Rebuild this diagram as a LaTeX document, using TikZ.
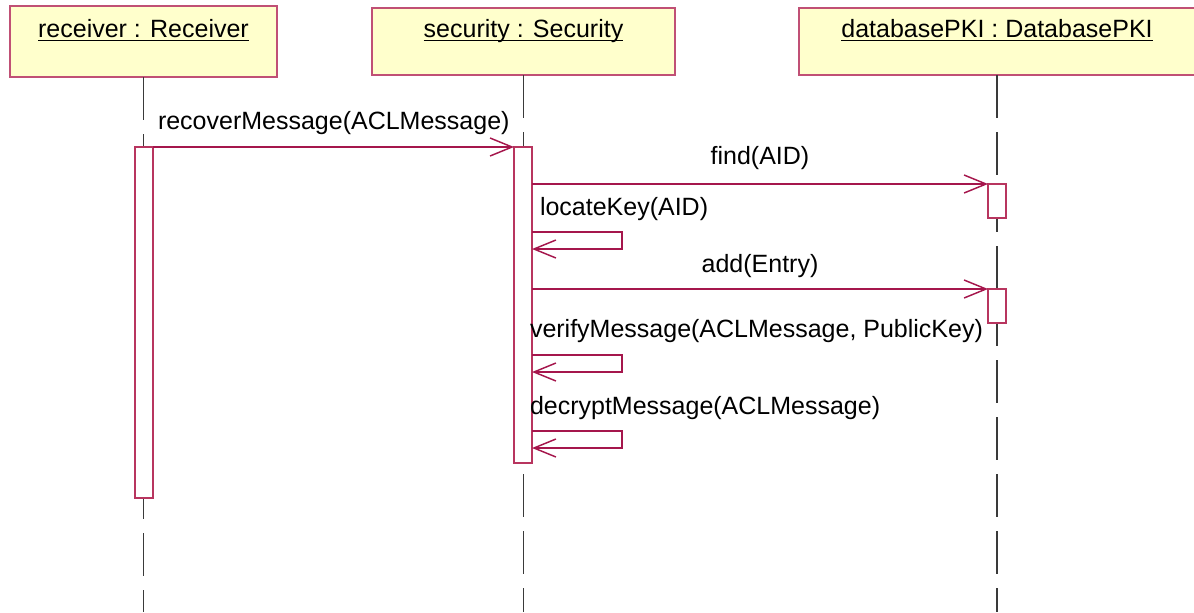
\documentclass[tikz,border=0pt]{standalone}
\usepackage{fontspec}
\setmainfont{Liberation Sans}
\usetikzlibrary{arrows.meta}
\definecolor{headfill}{HTML}{FFFFCC}
\definecolor{headline}{HTML}{C05075}
\definecolor{msgline}{HTML}{A5164C}
\definecolor{actline}{HTML}{B8355F}
\definecolor{lifecol}{HTML}{3A3A3A}
\begin{document}
\begin{tikzpicture}[x=0.75pt,y=-0.75pt,
  every node/.style={font=\fontsize{18.75}{22}\selectfont, inner sep=0pt, outer sep=0pt},
  head/.style={draw=headline, fill=headfill, line width=1.5pt},
  headtext/.style={anchor=base},
  uline/.style={draw=black, line width=1.1pt},
  life/.style={draw=lifecol, line width=0.8pt, dash pattern=on 32.25pt off 10.5pt},
  act/.style={draw=actline, fill=white, line width=1.1pt, minimum width=13.5pt},
  msg/.style={draw=msgline, line width=1.1pt,
    -{Straight Barb[length=16.5pt,width=13.5pt,line width=1.1pt]}},
  lbl/.style={anchor=base, text=black}]
\useasboundingbox (0,0) rectangle (1194,612);
\coordinate (bot) at (0,612);

% object heads
\node[head, minimum width=200.25pt, minimum height=53.25pt] (hR) at (143.5,41.5) {};
\node[head, minimum width=227.25pt, minimum height=50.25pt] (hS) at (523.5,41.5) {};
\node[head, minimum width=297pt, minimum height=50.25pt] (hD) at (997,41.5) {};

\node[headtext] (tR) at (143.5,37) {receiver : Receiver};
\node[headtext] (tS) at (523.5,37) {security : Security};
\node[headtext] (tD) at (997,37) {databasePKI : DatabasePKI};
\foreach \t in {tR,tS,tD}
  \draw[uline] ([yshift=-2.6pt]\t.base west) -- ([yshift=-2.6pt]\t.base east);

% lifelines
\draw[life] (hR.south) -- (hR.south |- bot);
\draw[life] (hS.south) -- (hS.south |- bot);
\draw[life] (hD.south) -- (hD.south |- bot);

% activations
\node[act, minimum height=263.25pt] (aR) at (144,322.5) {};
\node[act, minimum height=237pt] (aS) at (523,305) {};
\node[act, minimum height=25.5pt] (aD1) at (997,201) {};
\node[act, minimum height=25.5pt] (aD2) at (997,306) {};

% messages
\draw[msg] (aR.north east) -- (aS.north west);
\node[lbl, anchor=base west] (m1) at (158,129) {recoverMessage(ACLMessage)};

\draw[msg] (aS.east |- aD1.north) -- (aD1.north west);
\node[lbl] (m2) at (760,164) {find(AID)};

\draw[msg] (aS.east |- 0,232) -- (622,232) -- (622,249) -- (aS.east |- 0,249);
\node[lbl, anchor=base west] (m3) at (540,215) {locateKey(AID)};

\draw[msg] (aS.east |- aD2.north) -- (aD2.north west);
\node[lbl] (m4) at (760,272) {add(Entry)};

\draw[msg] (aS.east |- 0,355) -- (622,355) -- (622,372) -- (aS.east |- 0,372);
\node[lbl, anchor=base west] (m5) at (530,337) {verifyMessage(ACLMessage, PublicKey)};

\draw[msg] (aS.east |- 0,431) -- (622,431) -- (622,448) -- (aS.east |- 0,448);
\node[lbl, anchor=base west] (m6) at (530,414) {decryptMessage(ACLMessage)};
\end{tikzpicture}
\end{document}
